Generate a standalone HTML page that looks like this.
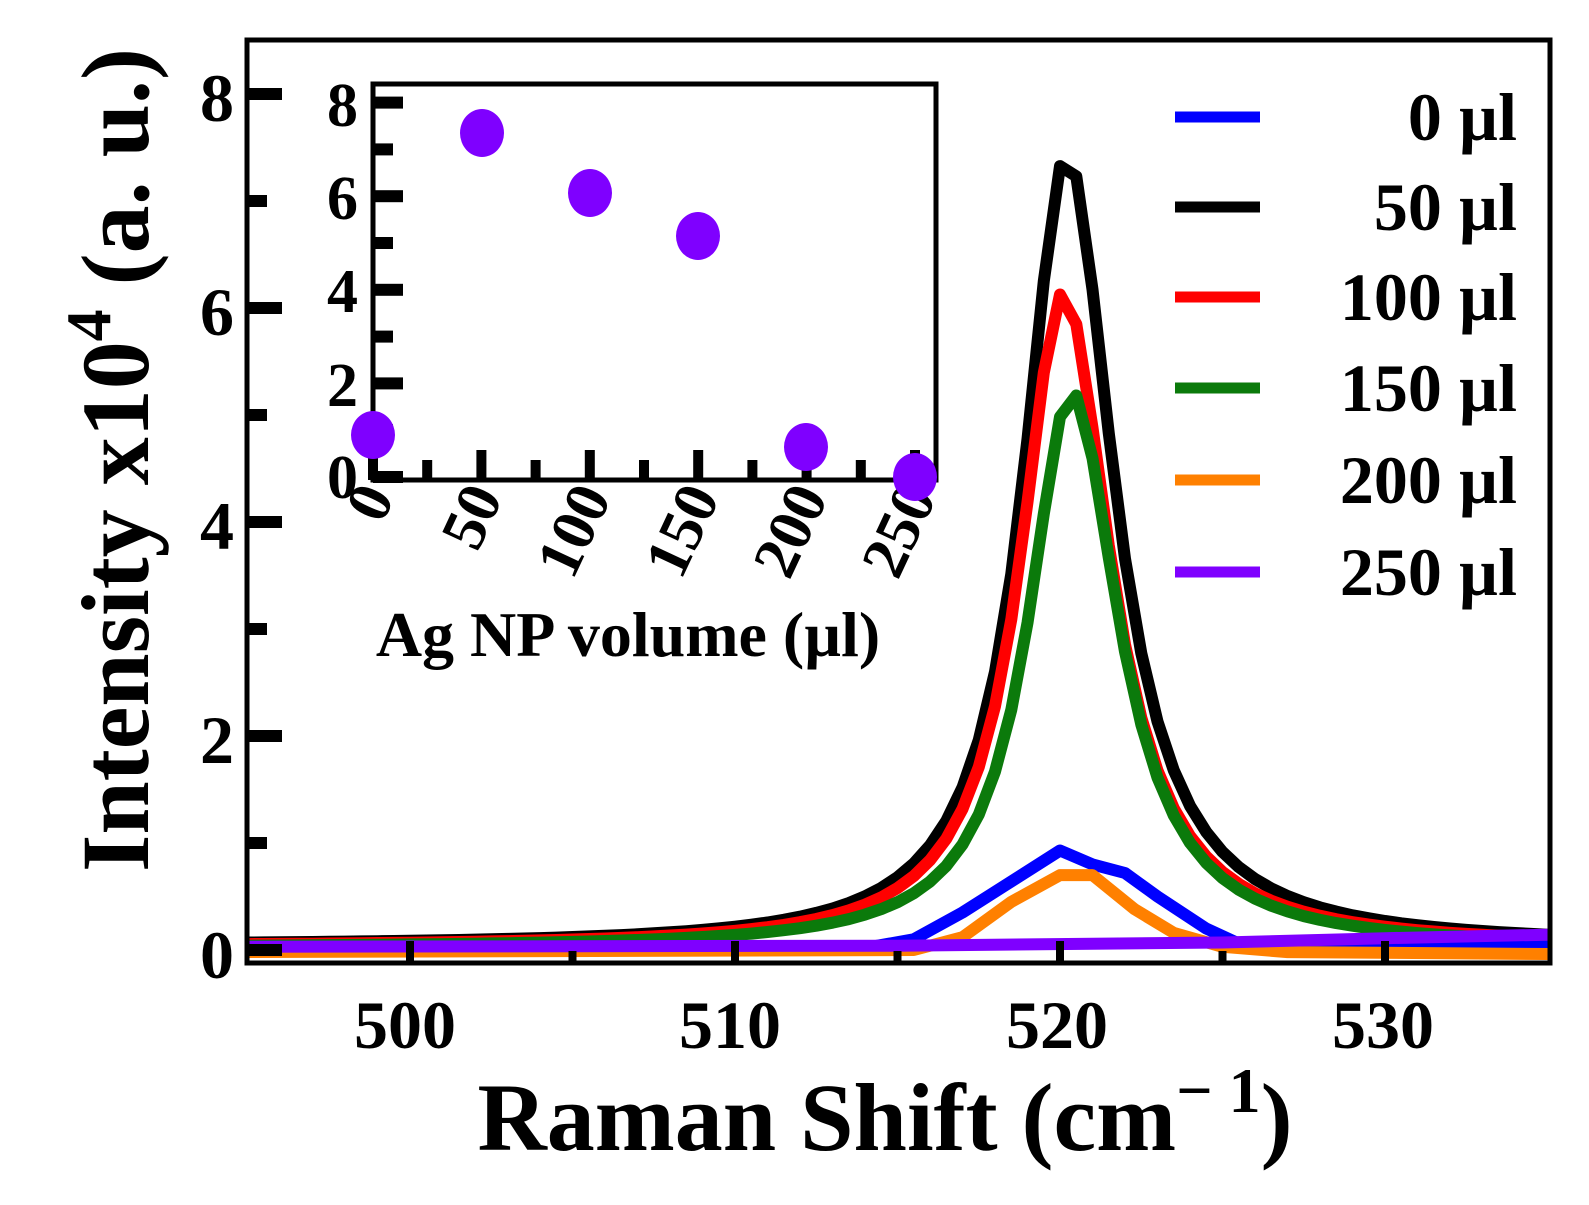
<!DOCTYPE html>
<html><head><meta charset="utf-8"><style>
html,body{margin:0;padding:0;background:#fff;}
svg{display:block;font-family:"Liberation Serif",serif;font-weight:bold;}
</style></head><body>
<svg id="s" width="1589" height="1205" viewBox="0 0 1589 1205" xmlns="http://www.w3.org/2000/svg">
<rect width="1589" height="1205" fill="#fff"/>
<defs><clipPath id="c"><rect x="249" y="42" width="1299" height="919"/></clipPath></defs>
<g id="curves" clip-path="url(#c)" fill="none" stroke-linejoin="round" stroke-width="12"></g>
<rect x="247" y="40" width="1303" height="923" fill="none" stroke="#000" stroke-width="5"/>
<g id="mt" fill="#000"></g>
<g font-size="68" text-anchor="end">
<text x="234" y="978">0</text><text x="234" y="763">2</text><text x="234" y="549">4</text><text x="234" y="335">6</text><text x="234" y="121">8</text>
</g>
<g font-size="68" text-anchor="middle">
<text x="405" y="1048">500</text><text x="730" y="1048">510</text><text x="1057" y="1048">520</text><text x="1383" y="1048">530</text>
</g>
<text x="885" y="1150" font-size="96" text-anchor="middle">Raman Shift (cm<tspan dy="-38" font-size="64">− 1</tspan><tspan dy="38">)</tspan></text>
<text transform="translate(148,460) rotate(-90)" font-size="96" text-anchor="middle">Intensity x10<tspan dy="-38" font-size="64">4</tspan><tspan dy="38"> (a. u.)</tspan></text>
<g stroke-width="11">
<line x1="1175" y1="117" x2="1260" y2="117" stroke="#0000ff"/>
<line x1="1175" y1="207" x2="1260" y2="207" stroke="#000"/>
<line x1="1175" y1="297" x2="1260" y2="297" stroke="#ff0000"/>
<line x1="1175" y1="388" x2="1260" y2="388" stroke="#0b7a0b"/>
<line x1="1175" y1="480" x2="1260" y2="480" stroke="#ff8000"/>
<line x1="1175" y1="572" x2="1260" y2="572" stroke="#7f00ff"/>
</g>
<g font-size="68" text-anchor="end">
<text x="1517" y="140">0 µl</text><text x="1517" y="230">50 µl</text><text x="1517" y="320">100 µl</text>
<text x="1517" y="411">150 µl</text><text x="1517" y="503">200 µl</text><text x="1517" y="595">250 µl</text>
</g>
<rect x="373" y="84" width="563" height="396" fill="#fff" stroke="#000" stroke-width="5"/>
<g id="it" fill="#000"></g>
<g font-size="62" text-anchor="end">
<text x="358" y="498">0</text><text x="358" y="406">2</text><text x="358" y="312">4</text><text x="358" y="219">6</text><text x="358" y="126">8</text>
</g>
<g font-size="62" text-anchor="end" id="ixl"></g>
<text x="628" y="656" font-size="64" text-anchor="middle">Ag NP volume  (µl)</text>
<g fill="#7f00ff">
<ellipse cx="373" cy="435" rx="22" ry="24"/>
<ellipse cx="482" cy="133" rx="22" ry="24"/>
<ellipse cx="590" cy="193" rx="22" ry="24"/>
<ellipse cx="698" cy="236" rx="22" ry="24"/>
<ellipse cx="806" cy="447" rx="22" ry="24"/>
<ellipse cx="915" cy="477" rx="22" ry="24"/>
</g>
</svg>
<script>
var NS="http://www.w3.org/2000/svg";
function X(v){return 410+(v-500)*32.5;}
function Y(v){return 950-107*v;}
function el(p,t,a){var e=document.createElementNS(NS,t);for(var k in a)e.setAttribute(k,a[k]);p.appendChild(e);return e;}
var cg=document.getElementById("curves");
function lor(A,g,base,sh){var pts=[];for(var x=494;x<=536;x+=0.5){var d=x-520-sh;var gg=d>0?g*1.1:g;pts.push([x,base+A*gg*gg/(d*d+gg*gg)]);}return pts;}
function draw(pts,col){el(cg,"polyline",{points:pts.map(function(p){return X(p[0]).toFixed(1)+","+Y(p[1]).toFixed(1)}).join(" "),stroke:col});}
draw(lor(7.4,1.6,0.04,0.2),"#000");
draw(lor(6.12,1.6,0.03,0.1),"#ff0000");
draw(lor(5.2,1.6,0.02,0.35),"#0b7a0b");
draw([[494,0.0],[514,0.02],[515.5,0.1],[517,0.35],[520,0.93],[521,0.8],[522,0.72],[523,0.5],[524.5,0.2],[525.5,0.06],[527,0.04],[536,0.03]],"#0000ff");
draw([[494,-0.02],[515.5,0.0],[517,0.12],[518.5,0.45],[520,0.7],[521,0.7],[522.3,0.38],[523.5,0.16],[525,0.03],[527,-0.02],[536,-0.04]],"#ff8000");
draw([[494,0.03],[515,0.04],[525,0.07],[530,0.11],[536,0.15]],"#7f00ff");
var mt=document.getElementById("mt");
for(var i=0;i<=8;i++){var y=Y(i);var L=(i%2==0)?35:20;el(mt,"rect",{x:247,y:y-6,width:L,height:12});}
for(var v=500;v<=530;v+=5){var x=X(v);var L=(v%10==0)?22:12;el(mt,"rect",{x:x-4,y:963-L,width:8,height:L});}
var it=document.getElementById("it");
function IY(v){return 477-46.8*v;}
for(var i=0;i<=8;i++){var L=(i%2==0)?30:20;el(it,"rect",{x:373,y:IY(i)-6,width:L,height:12});}
for(var k=0;k<=10;k++){var x=373+k*54.2;var L=(k%2==0)?30:20;el(it,"rect",{x:x-5,y:480-L,width:10,height:L});}
var ixl=document.getElementById("ixl");var labs=["0","50","100","150","200","250"];
for(var k=0;k<6;k++){var x=373+k*108.4+22,y=497;var t=el(ixl,"text",{transform:"translate("+x+","+y+") rotate(-65)"});t.textContent=labs[k];}
</script>
</body></html>
